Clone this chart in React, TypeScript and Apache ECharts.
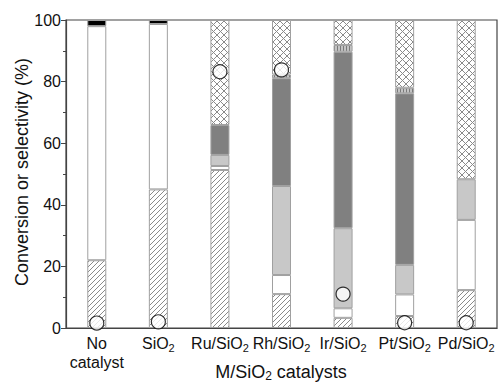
import React, { useEffect, useRef } from "react";
import * as echarts from "echarts";

const categories = ["No\ncatalyst", "SiO2", "Ru/SiO2", "Rh/SiO2", "Ir/SiO2", "Pt/SiO2", "Pd/SiO2"];
const hatchVals = [22, 45, 51.3, 11, 3.3, 3.9, 12.3];
const whiteVals = [76, 53.7, 1.3, 6.2, 3.1, 7.0, 22.8];
const lightVals = [null, null, 3.6, 28.9, 26.0, 9.6, 13.2];
const darkVals = [null, null, 9.7, 35.0, 57.3, 55.7, null];
const vlineVals = [null, null, null, 1.2, 2.2, 1.8, null];
const crossVals = [null, null, 34.1, 17.7, 8.1, 22.0, 51.7];
const blackVals = [2, 1.3, null, null, null, null, null];
const conversion = [1.6, 2.0, 83.2, 83.8, 11.0, 1.7, 1.7];
const yTicks = [0, 20, 40, 60, 80, 100];
const xTitle = "M/SiO{s|2} catalysts";
const yTitle = "Conversion or selectivity (%)";

function makePattern(kind: string) {
  const c = document.createElement("canvas");
  const s = kind === "cross" ? 7 : kind === "vline" ? 3 : 5;
  c.width = s;
  c.height = s;
  const ctx = c.getContext("2d")!;
  ctx.fillStyle = kind === "vline" ? "#c4c4c4" : "#ffffff";
  ctx.fillRect(0, 0, s, s);
  ctx.strokeStyle = kind === "vline" ? "#7a7a7a" : "#8a8a8a";
  ctx.lineWidth = 1;
  ctx.beginPath();
  if (kind === "diag") {
    ctx.moveTo(-1, s + 1);
    ctx.lineTo(s + 1, -1);
    ctx.moveTo(-1, 1);
    ctx.lineTo(1, -1);
    ctx.moveTo(s - 1, s + 1);
    ctx.lineTo(s + 1, s - 1);
  } else if (kind === "cross") {
    ctx.moveTo(0, 0);
    ctx.lineTo(s, s);
    ctx.moveTo(0, s);
    ctx.lineTo(s, 0);
  } else {
    ctx.moveTo(1.5, 0);
    ctx.lineTo(1.5, s);
  }
  ctx.stroke();
  return { image: c, repeat: "repeat" } as any;
}

export default function App() {
  const ref = useRef<HTMLDivElement>(null);
  useEffect(() => {
    const chart = echarts.init(ref.current!, undefined, { renderer: "svg" });
    const border = { borderColor: "#a0a0a0", borderWidth: 1 };
    const mk = (name: string, data: any[], color: any) => ({
      name,
      type: "bar",
      stack: "s",
      barWidth: 19,
      data,
      itemStyle: { color, ...border },
      emphasis: { disabled: true },
    });
    const fmt = (v: string) => v.replace("SiO2", "SiO{s|2}");
    const subStyle = { fontSize: 11, fontFamily: "Liberation Sans", fill: "#111", color: "#111", verticalAlign: "bottom", padding: [9, 0, 0, 0] };
    chart.setOption({
      animation: false,
      grid: {
        left: 66, right: 7, top: 20, bottom: 57,
        containLabel: false, outerBoundsMode: "none",
        show: true, borderColor: "#444", borderWidth: 1.2, backgroundColor: "transparent",
      },
      xAxis: {
        type: "category",
        data: categories,
        axisLine: { lineStyle: { color: "#444", width: 1.2 } },
        axisTick: { show: false },
        axisLabel: {
          interval: 0,
          hideOverlap: false,
          color: "#111",
          fontFamily: "Liberation Sans",
          fontSize: 16,
          lineHeight: 19,
          margin: 6,
          formatter: fmt,
          rich: { s: subStyle },
        },
      },
      yAxis: {
        type: "value",
        min: yTicks[0],
        max: yTicks[yTicks.length - 1],
        interval: 20,
        axisLine: { show: true, lineStyle: { color: "#444", width: 1.2 } },
        axisTick: { show: true, inside: false, length: 5, lineStyle: { color: "#444" } },
        minorTick: { show: true, splitNumber: 2, length: 3, lineStyle: { color: "#444" } },
        splitLine: { show: false },
        axisLabel: { color: "#111", fontFamily: "Liberation Sans", fontSize: 16, margin: 5 },
      },
      graphic: [
        {
          type: "text",
          x: 281,
          y: 372,
          style: {
            text: xTitle,
            fontFamily: "Liberation Sans",
            fontSize: 18,
            fill: "#111",
            align: "center",
            verticalAlign: "middle",
            rich: { s: { ...subStyle, fontSize: 12, padding: [7, 0, 0, 0] } },
          },
        },
        {
          type: "text",
          x: 22,
          y: 172,
          rotation: Math.PI / 2,
          style: {
            text: yTitle,
            fontFamily: "Liberation Sans",
            fontSize: 18,
            fill: "#111",
            align: "center",
            verticalAlign: "middle",
          },
        },
      ],
      series: [
        mk("hatch", hatchVals, makePattern("diag")),
        mk("white", whiteVals, "#ffffff"),
        mk("light", lightVals, "#c8c8c8"),
        mk("dark", darkVals, "#808080"),
        mk("vline", vlineVals, makePattern("vline")),
        mk("cross", crossVals, makePattern("cross")),
        mk("black", blackVals, "#000000"),
        {
          name: "conversion",
          type: "scatter",
          data: conversion,
          symbol: "circle",
          symbolSize: 14,
          itemStyle: { color: "#ffffff", borderColor: "#000", borderWidth: 1.2 },
          z: 5,
        },
      ],
    });
    return () => chart.dispose();
  }, []);
  return <div ref={ref} style={{ width: 504, height: 385, position: "absolute", left: 0, top: 0 }} />;
}
